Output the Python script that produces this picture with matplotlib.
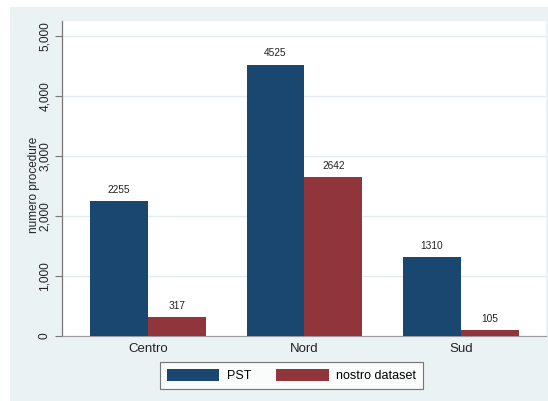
import numpy as np
import matplotlib.pyplot as plt

plt.rcParams['font.family'] = ['Liberation Sans', 'DejaVu Sans']

regions = ["Centro", "Nord", "Sud"]
pst = [2255, 4525, 1310]
nostro = [317, 2642, 105]
series_names = ["PST", "nostro dataset"]
yticks = [0, 1000, 2000, 3000, 4000, 5000]

navy = "#1a476f"
maroon = "#90353b"
bg = "#eaf2f3"

fig = plt.figure(figsize=(5.48, 4.01), dpi=100)
fig.patch.set_facecolor("white")

# outer stata-like background
bgax = fig.add_axes([10 / 548, 0, 538 / 548, 394 / 401], zorder=0)
bgax.set_facecolor(bg)
bgax.set_xticks([])
bgax.set_yticks([])
for s in bgax.spines.values():
    s.set_visible(False)

ax = fig.add_axes([62 / 548, 65 / 401, 484 / 548, 315 / 401], zorder=2)
ax.set_facecolor("white")

x = np.arange(len(regions))
w = 0.37
b1 = ax.bar(x - w / 2, pst, w, color=navy, label=series_names[0], zorder=3)
b2 = ax.bar(x + w / 2, nostro, w, color=maroon, label=series_names[1], zorder=3)

for bars, vals in [(b1, pst), (b2, nostro)]:
    for r, v in zip(bars, vals):
        ax.text(r.get_x() + r.get_width() / 2, v + 100, str(v), ha="center",
                va="bottom", fontsize=7.3, color="#222222")

ax.set_xlim(-0.55, 2.545)
ax.set_ylim(0, 5250)
ax.set_yticks(yticks)
ax.set_yticklabels([f"{t:,}" for t in yticks], rotation=90, va="center",
                   fontsize=8.6, color="#222222")
ax.set_xticks(x)
ax.set_xticklabels(regions, fontsize=9.5, color="#222222")
ax.tick_params(axis="x", length=0, pad=5)
ax.tick_params(axis="y", length=5, width=0.8, color="#777777", pad=3)
ax.set_ylabel("numero procedure", fontsize=8.5, color="#222222")
ax.yaxis.set_label_coords(-0.045, 0.48)
ax.grid(axis="y", color="#e2ecee", linewidth=1, zorder=0)

for s in ["top", "right"]:
    ax.spines[s].set_visible(False)
ax.spines["left"].set_color("#777777")
ax.spines["left"].set_linewidth(0.9)
ax.spines["bottom"].set_color("#999999")
ax.spines["bottom"].set_linewidth(0.8)

leg = fig.legend(handles=[b1, b2], loc="center", bbox_to_anchor=(291.5 / 548, 25.5 / 401),
                 ncol=2, fontsize=9, frameon=True, fancybox=False,
                 handlelength=4.2, handleheight=1.1, columnspacing=2.0,
                 handletextpad=0.6, borderpad=0.55)
leg.set_zorder(5)
leg.get_frame().set_edgecolor("#555555")
leg.get_frame().set_linewidth(0.8)

fig.savefig("out.png", dpi=100)
